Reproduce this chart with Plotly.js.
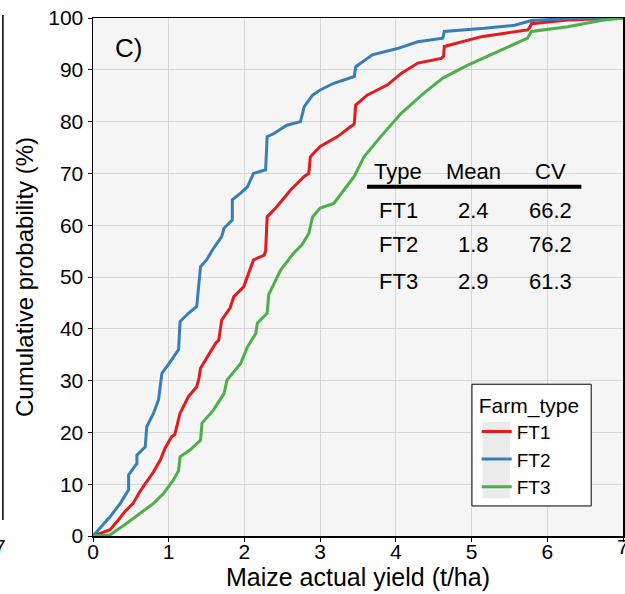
<!DOCTYPE html>
<html>
<head>
<meta charset="utf-8">
<script src="https://cdn.plot.ly/plotly-3.0.1.min.js"></script>
<style>
  html, body { margin: 0; padding: 0; background: #ffffff; }
  #chart { width: 625px; height: 594px; }
</style>
</head>
<body>
<div id="chart"></div>
<script>
// ---- Data ----
var ft1_x = [0, 0.225, 0.335, 0.42, 0.53, 0.62, 0.71, 0.80, 0.89, 0.95, 1.04, 1.08, 1.15, 1.26, 1.37, 1.40, 1.42, 1.53, 1.62, 1.66, 1.70, 1.81, 1.86, 1.99, 2.05, 2.12, 2.26, 2.28, 2.30, 2.43, 2.61, 2.79, 2.85, 2.87, 3.00, 3.23, 3.40, 3.45, 3.47, 3.62, 3.89, 4.07, 4.29, 4.60, 4.63, 4.64, 5.13, 5.74, 5.77, 5.79, 6.27, 7.0];
var ft1_y = [0, 1.2, 3.1, 4.7, 6.3, 8.6, 10.5, 12.4, 14.7, 16.9, 19.2, 19.6, 23.7, 26.9, 28.8, 30.5, 32.4, 34.9, 37.2, 37.8, 41.7, 44.0, 46.2, 48.1, 50.5, 53.3, 54.2, 55.0, 61.6, 63.6, 66.8, 69.4, 70.0, 73.2, 75.2, 77.1, 79.0, 79.5, 83.2, 85.1, 87.1, 89.3, 91.3, 92.2, 92.6, 94.5, 96.4, 97.7, 98.2, 98.9, 99.6, 100];

var ft2_x = [0, 0.225, 0.36, 0.47, 0.47, 0.58, 0.58, 0.69, 0.71, 0.80, 0.865, 0.91, 1.02, 1.11, 1.13, 1.15, 1.26, 1.37, 1.39, 1.42, 1.50, 1.59, 1.70, 1.73, 1.84, 1.84, 1.95, 2.04, 2.12, 2.28, 2.30, 2.39, 2.56, 2.74, 2.79, 2.90, 3.00, 3.18, 3.45, 3.47, 3.69, 4.02, 4.29, 4.62, 4.64, 5.17, 5.57, 5.79, 6.27, 7.0];
var ft2_y = [0, 3.7, 6.3, 8.9, 11.8, 14.0, 15.6, 17.2, 21.1, 23.7, 26.3, 31.4, 33.6, 35.6, 36.0, 41.4, 43.0, 44.3, 48.1, 52.0, 53.3, 55.5, 57.8, 59.4, 61.0, 64.9, 66.2, 67.4, 70.0, 70.7, 77.1, 77.7, 79.3, 80.0, 82.9, 85.1, 86.1, 87.4, 88.7, 90.6, 92.9, 94.1, 95.4, 96.1, 97.4, 98.0, 98.6, 99.5, 99.9, 100];

var ft3_x = [0, 0.225, 0.45, 0.62, 0.80, 0.93, 1.06, 1.13, 1.15, 1.28, 1.42, 1.44, 1.59, 1.73, 1.77, 1.95, 2.04, 2.15, 2.17, 2.30, 2.32, 2.48, 2.65, 2.76, 2.85, 2.90, 3.00, 3.18, 3.45, 3.58, 3.80, 4.07, 4.37, 4.62, 4.95, 5.39, 5.74, 5.79, 6.27, 6.71, 7.0];
var ft3_y = [0, 0.2, 2.5, 4.4, 6.3, 8.2, 10.8, 12.6, 15.3, 16.6, 18.5, 21.8, 24.3, 27.5, 30.1, 33.3, 36.5, 39.1, 41.1, 43.0, 46.6, 51.4, 54.6, 56.2, 58.4, 61.6, 63.3, 64.2, 69.4, 73.2, 77.1, 81.6, 85.5, 88.4, 90.9, 93.8, 96.1, 97.4, 98.3, 99.5, 100];

var seriesNames = ["FT1", "FT2", "FT3"];
var seriesColors = ["#e41a1c", "#377eb8", "#4daf4a"];

// Summary table
var tableHeader = ["Type", "Mean", "CV"];
var tableTypes = ["FT1", "FT2", "FT3"];
var tableMeans = ["2.4", "1.8", "2.9"];
var tableCVs = ["66.2", "76.2", "61.3"];

var xTicks = [0, 1, 2, 3, 4, 5, 6, 7];
var yTicks = [0, 10, 20, 30, 40, 50, 60, 70, 80, 90, 100];

var xs = [ft1_x, ft2_x, ft3_x];
var ys = [ft1_y, ft2_y, ft3_y];

var FONT = "Liberation Sans, Arial, sans-serif";

var traces = seriesNames.map(function (n, i) {
  return {
    type: "scatter", mode: "lines", name: n,
    x: xs[i], y: ys[i],
    line: { color: seriesColors[i], width: 3 },
    hoverinfo: "skip"
  };
});

// table annotations (data coordinates)
var colX = [4.03, 5.03, 6.04];
var headerY = 70.3;
var rowY = [62.9, 56.2, 49.2];
var annotations = [];
tableHeader.forEach(function (h, j) {
  annotations.push({ x: colX[j], y: headerY, xref: "x", yref: "y", text: h, showarrow: false,
    font: { family: FONT, size: 22, color: "#000" }, xanchor: "center", yanchor: "middle" });
});
[tableTypes, tableMeans, tableCVs].forEach(function (col, j) {
  col.forEach(function (t, r) {
    annotations.push({ x: colX[j], y: rowY[r], xref: "x", yref: "y", text: t, showarrow: false,
      font: { family: FONT, size: 22, color: "#000" }, xanchor: "center", yanchor: "middle" });
  });
});
annotations.push({ x: 0.47, y: 94.3, xref: "x", yref: "y", text: "C)", showarrow: false,
  font: { family: FONT, size: 26, color: "#000" }, xanchor: "center", yanchor: "middle" });
// last x tick label, partly cut at the right edge as in the reference
annotations.push({ x: 7, y: -0.021, xref: "x", yref: "paper", text: String(xTicks[7]), showarrow: false,
  font: { family: FONT, size: 21, color: "#000" }, xanchor: "center", yanchor: "middle" });
// cut-off tick label of neighbouring panel
annotations.push({ x: -0.175, y: -0.021, xref: "paper", yref: "paper", text: "7", showarrow: false,
  font: { family: FONT, size: 21, color: "#000" }, xanchor: "center", yanchor: "middle" });

// legend box geometry (paper coords)
var LG = { x0: 0.715, x1: 0.940, y0: 0.058, y1: 0.293 };

var shapes = [
  // table header underline
  { type: "line", xref: "x", yref: "y", x0: 3.62, x1: 6.45, y0: 67.4, y1: 67.4,
    line: { color: "#000", width: 4 } },
  // neighbouring panel's border line
  { type: "line", xref: "paper", yref: "paper", x0: -0.17, x1: -0.17, y0: 0.031, y1: 1.006,
    line: { color: "#000", width: 1.5 } },
  // legend box
  { type: "rect", xref: "paper", yref: "paper", x0: LG.x0, x1: LG.x1, y0: LG.y0, y1: LG.y1,
    fillcolor: "#ffffff", line: { color: "#000", width: 1 }, layer: "above" },
  // grey key background in legend
  { type: "rect", xref: "paper", yref: "paper", x0: 0.735, x1: 0.787, y0: 0.073, y1: 0.220,
    fillcolor: "#ebebeb", line: { width: 0 }, layer: "above" }
];

var layout = {
  width: 625, height: 594,
  margin: { l: 93, r: 2, t: 18, b: 58, pad: 0 },
  paper_bgcolor: "#ffffff",
  plot_bgcolor: "#f5f5f5",
  font: { family: FONT, size: 20, color: "#000" },
  showlegend: true,
  legend: {
    x: LG.x0 + 0.009, y: LG.y1 - 0.002, xanchor: "left", yanchor: "top",
    bgcolor: "rgba(0,0,0,0)", borderwidth: 0,
    font: { family: FONT, size: 19, color: "#000" },
    title: { text: "Farm_type", font: { family: FONT, size: 21, color: "#000" }, side: "top" },
    traceorder: "normal", itemwidth: 30, tracegroupgap: 0
  },
  xaxis: {
    range: [0, 7], tickvals: xTicks, ticktext: xTicks.map(String),
    showgrid: true, gridcolor: "#d6d6d6", gridwidth: 1,
    zeroline: false, showline: true, linecolor: "#000", linewidth: 1.5, mirror: true,
    ticks: "outside", ticklen: 4, tickcolor: "#000",
    ticklabelstandoff: -8,
    tickfont: { family: FONT, size: 21, color: "#000" },
    title: { text: "Maize actual yield (t/ha)", font: { family: FONT, size: 25, color: "#000" }, standoff: 2 }
  },
  yaxis: {
    range: [0, 100], tickvals: yTicks, ticktext: yTicks.map(String),
    showgrid: true, gridcolor: "#d6d6d6", gridwidth: 1,
    zeroline: false, showline: true, linecolor: "#000", linewidth: 1.5, mirror: true,
    ticks: "outside", ticklen: 4, tickcolor: "#000",
    tickfont: { family: FONT, size: 21, color: "#000" },
    title: { text: "Cumulative probability (%)", font: { family: FONT, size: 24, color: "#000" }, standoff: 8 }
  },
  annotations: annotations,
  shapes: shapes
};

Plotly.newPlot("chart", traces, layout, { displayModeBar: false, staticPlot: true });
</script>
</body>
</html>
